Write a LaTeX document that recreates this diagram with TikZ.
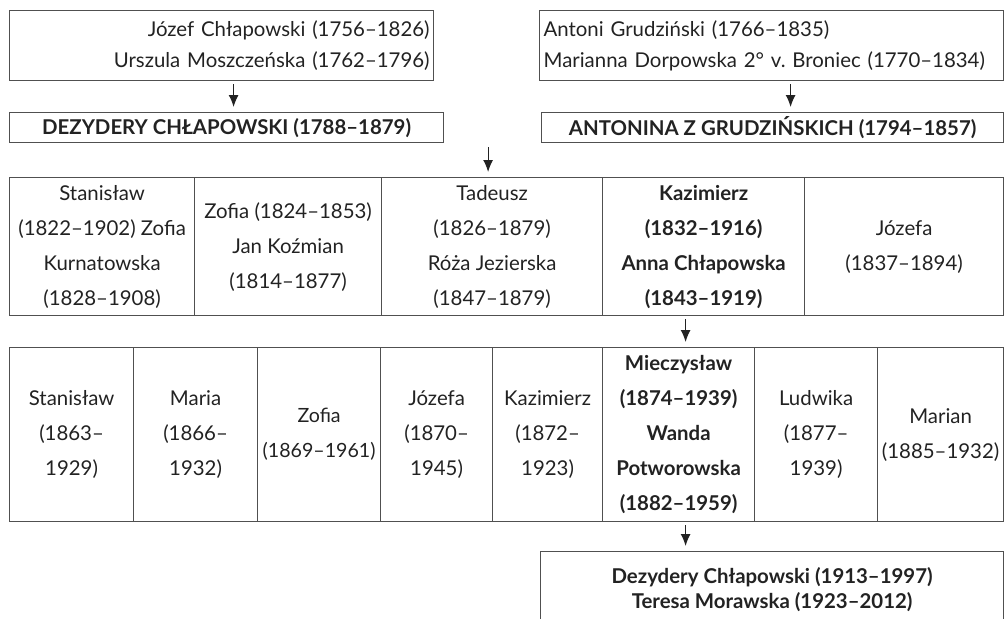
\documentclass[tikz,border=0pt]{standalone}
\usepackage{fontspec}
\setmainfont{Lato}
\usetikzlibrary{arrows.meta, positioning, calc}
\definecolor{linegray}{HTML}{505050}
\definecolor{inkgray}{HTML}{222222}
\tikzset{
  cell/.style = {draw=linegray, line width=0.6pt, inner sep=0pt, anchor=north west,
    align=center, text=inkgray, font=\fontsize{10.2}{17.5}\selectfont},
  wide/.style = {cell, font=\fontsize{10.2}{15.5}\selectfont},
  heir/.style = {font=\fontsize{10.2}{17.5}\selectfont\bfseries},
  arr/.style = {-{Latex[length=6pt, width=5pt]}, line width=0.6pt, color=inkgray}
}

\begin{document}
\begin{tikzpicture}[x=0.5pt, y=-0.5pt]

  \useasboundingbox (0,0) rectangle (1005,618);

  % Grandparents
  \node[wide, minimum width=212pt, minimum height=35pt, text width=208pt, align=right] (parA) at (9,10)
    {Józef Chłapowski (1756–1826)\\ Urszula Moszczeńska (1762–1796)};
  \node[wide, minimum width=232pt, minimum height=35pt, text width=228pt, align=left] (parB) at (539,10)
    {Antoni Grudziński (1766–1835)\\ Marianna Dorpowska 2° v.\ Broniec (1770–1834)};

  % Couple
  \node[cell, minimum width=217pt, minimum height=15pt, font=\fontsize{10.2}{12}\selectfont\bfseries] (dez) at (9,112)
    {DEZYDERY CHŁAPOWSKI (1788–1879)};
  \node[cell, minimum width=231pt, minimum height=15pt, font=\fontsize{10.2}{12}\selectfont\bfseries] (anton) at (541,112)
    {ANTONINA Z GRUDZIŃSKICH (1794–1857)};

  % Children
  \node[cell, minimum width=92.5pt, minimum height=69pt] (stan) at (9,177)
    {Stanisław\\ (1822–1902) Zofia\\ Kurnatowska\\ (1828–1908)};
  \node[cell, minimum width=93.5pt, minimum height=69pt] (zof) at (194,177)
    {Zofia (1824–1853)\\ Jan Koźmian\\ (1814–1877)};
  \node[cell, minimum width=110.5pt, minimum height=69pt] (tad) at (381,177)
    {Tadeusz\\ (1826–1879)\\ Róża Jezierska\\ (1847–1879)};
  \node[cell, heir, minimum width=101pt, minimum height=69pt] (kaz) at (602,177)
    {Kazimierz\\ (1832–1916)\\ Anna Chłapowska\\ (1843–1919)};
  \node[cell, minimum width=99.5pt, minimum height=69pt] (joz) at (804,177)
    {Józefa\\ (1837–1894)};

  % Grandchildren
  \node[cell, minimum width=62pt, minimum height=87pt] (gstan) at (9,347)
    {Stanisław\\ (1863–\\ 1929)};
  \node[cell, minimum width=62pt, minimum height=87pt] (gmar) at (133,347)
    {Maria\\ (1866–\\ 1932)};
  \node[cell, minimum width=61.5pt, minimum height=87pt, font=\fontsize{9.8}{17.5}\selectfont] (gzof) at (257,347)
    {Zofia\\ (1869–1961)};
  \node[cell, minimum width=56pt, minimum height=87pt] (gjoz) at (380,347)
    {Józefa\\ (1870–\\ 1945)};
  \node[cell, minimum width=55pt, minimum height=87pt] (gkaz) at (492,347)
    {Kazimierz\\ (1872–\\ 1923)};
  \node[cell, heir, minimum width=76pt, minimum height=87pt] (miecz) at (602,347)
    {Mieczysław\\ (1874–1939)\\ Wanda\\ Potworowska\\ (1882–1959)};
  \node[cell, minimum width=61.5pt, minimum height=87pt] (glud) at (754,347)
    {Ludwika\\ (1877–\\ 1939)};
  \node[cell, minimum width=63pt, minimum height=87pt] (gmarian) at (877,347)
    {Marian\\ (1885–1932)};

  % Great-grandchild
  \node[cell, minimum width=231.5pt, minimum height=60pt, text depth=0pt,
    font=\fontsize{10.2}{12.5}\selectfont\bfseries] (last) at (540,551)
    {Dezydery Chłapowski (1913–1997)\\ Teresa Morawska (1923–2012)\\[11pt]\strut};

  % Arrows
  \draw[arr] ([xshift=6pt, yshift=-1.5pt]parA.south) -- ([xshift=6pt, yshift=2.5pt]parA.south |- dez.north);
  \draw[arr] ([xshift=9.5pt, yshift=-1.5pt]parB.south) -- ([xshift=9.5pt, yshift=2.5pt]parB.south |- anton.north);
  \draw[arr] ([xshift=-2pt, yshift=-2pt]tad.north |- dez.south) -- ([xshift=-2pt, yshift=2.5pt]tad.north);
  \draw[arr] ([xshift=-9pt, yshift=-1.5pt]kaz.south) -- ([xshift=-9pt, yshift=2.5pt]kaz.south |- miecz.north);
  \draw[arr] ([xshift=3.5pt, yshift=-1.5pt]miecz.south) -- ([xshift=3.5pt, yshift=2.5pt]miecz.south |- last.north);

\end{tikzpicture}
\end{document}
